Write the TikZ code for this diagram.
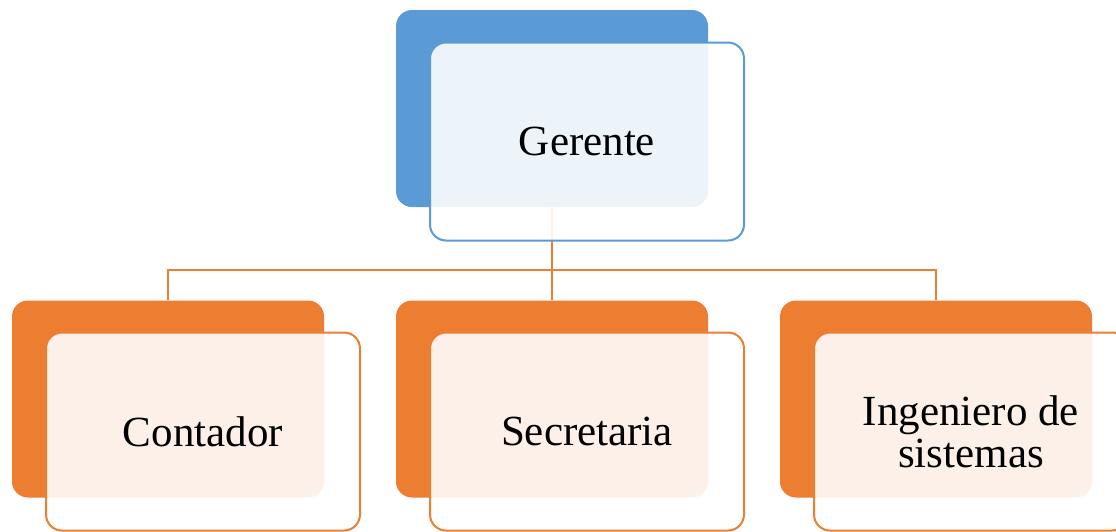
\documentclass[tikz,border=0pt]{standalone}
\usepackage{fontspec}
\setmainfont{Liberation Serif}
\usepackage{tikz}
\usetikzlibrary{positioning}
\definecolor{bosscol}{HTML}{5B9BD5}
\definecolor{staffcol}{HTML}{ED7D31}
\tikzset{
  back/.style={rounded corners=16pt, inner sep=0pt, minimum width=312pt, minimum height=197pt, fill=#1},
  front/.style={rounded corners=16pt, inner sep=0pt, minimum width=314pt, minimum height=198pt,
    draw=#1, line width=2pt, fill=white, fill opacity=0.89, text opacity=1, align=center,
    font=\fontsize{43}{42}\selectfont},
  link/.style={draw=staffcol, line width=1.8pt}
}
\begin{document}
\begin{tikzpicture}[x=1pt, y=-1pt]
      \useasboundingbox (0,0) rectangle (1116,531);
      \clip (0,0) rectangle (1116,531);
      % coloured backs
      \node[back=bosscol]  (gerB) at (552,108.5) {};
      \node[back=staffcol] (conB) at (168,399)   {};
      \node[back=staffcol] (secB) at (552,399)   {};
      \node[back=staffcol] (ingB) at (936,399)   {};
      % tree lines
      \coordinate (bus) at (552,270);
      \draw[link] (gerB.south) -- (bus);
      \draw[link] (bus) -| (conB.north);
      \draw[link] (bus) -- (secB.north);
      \draw[link] (bus) -| (ingB.north);
      % front cards
      \node[front=bosscol]  (ger) at (587,141.5) {Gerente};
      \node[front=staffcol] (con) at (203,431.5) {Contador};
      \node[front=staffcol] (sec) at (587,431.5) {Secretaria};
      \node[front=staffcol] (ing) at (971,431.5) {Ingeniero de\\sistemas};
    \end{tikzpicture}
\end{document}
